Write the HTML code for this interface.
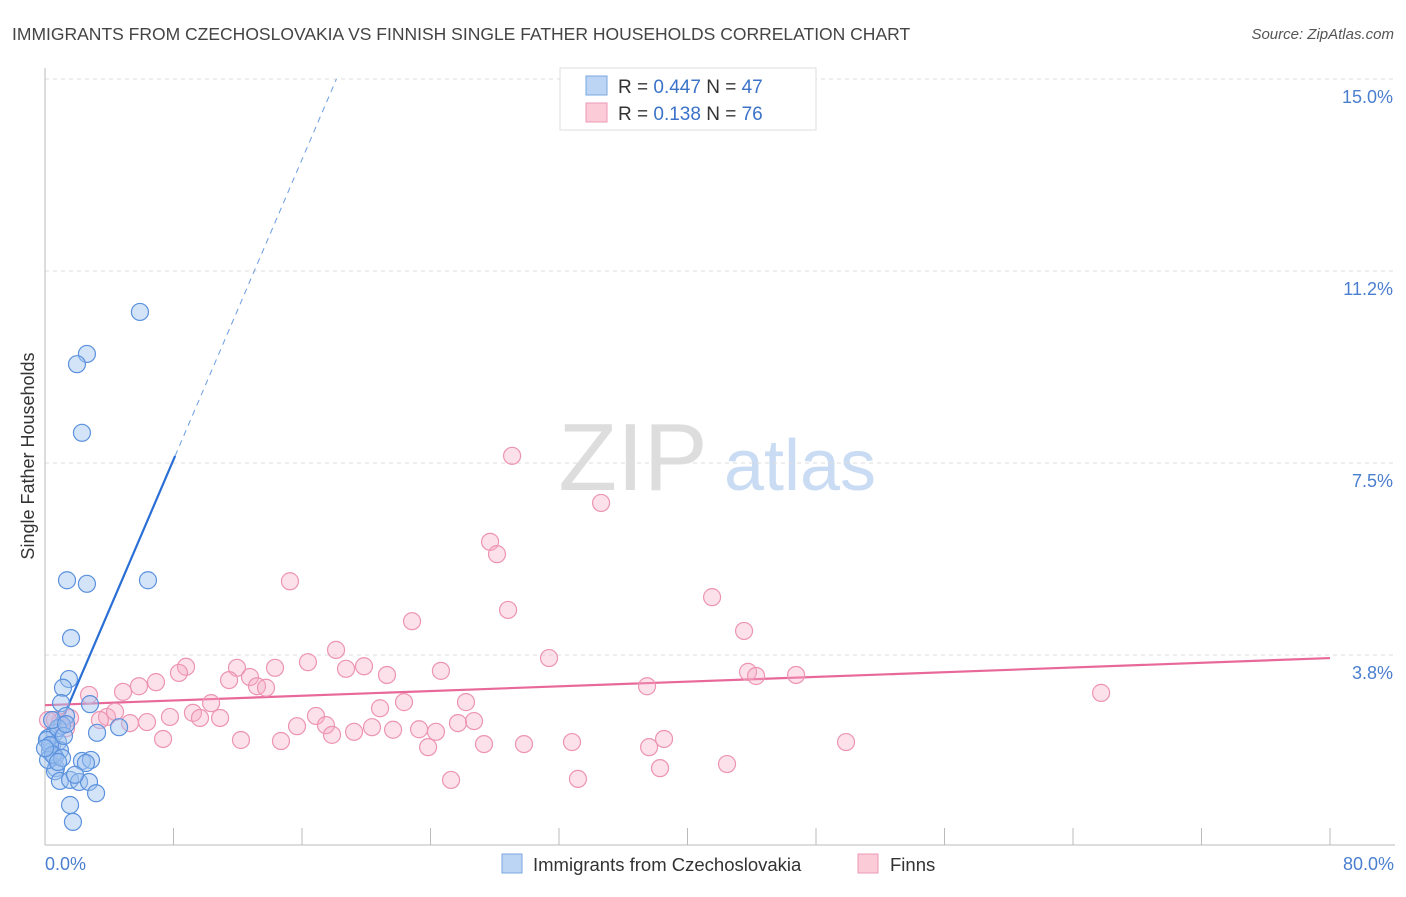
<!DOCTYPE html>
<html><head><meta charset="utf-8"><style>
body{margin:0;background:#fff;font-family:"Liberation Sans",sans-serif}
svg text{font-family:"Liberation Sans",sans-serif}
</style></head><body>
<svg id="chart" width="1406" height="892">
<text x="12" y="40" font-size="17.5" fill="#444">IMMIGRANTS FROM CZECHOSLOVAKIA VS FINNISH SINGLE FATHER HOUSEHOLDS CORRELATION CHART</text>
<text x="1394" y="39" font-size="15" fill="#555" font-style="italic" text-anchor="end">Source: ZipAtlas.com</text>
<g><text x="633" y="490" font-size="96" fill="#ddd" font-family="Liberation Serif" text-anchor="middle">ZIP</text><text x="800" y="490" font-size="72" fill="#c9dcf3" text-anchor="middle">atlas</text></g>
<g id="grid"></g><g id="axes"></g><g id="trend"></g><g id="pts"></g>
<text transform="translate(34,456) rotate(-90)" font-size="18" fill="#333" text-anchor="middle">Single Father Households</text>
<text x="45" y="870" font-size="18" fill="#4a7fd0">0.0%</text>
<text x="1394" y="870" font-size="18" fill="#4a7fd0" text-anchor="end">80.0%</text>
<g>
<rect x="560" y="68" width="256" height="62" fill="#fff" stroke="#ddd"/>
<rect x="586" y="76" width="21" height="19" fill="#bcd5f5" stroke="#7aa7e0"/>
<text x="618" y="93" font-size="19" fill="#333">R = <tspan fill="#3b73c8">0.447</tspan>   N = <tspan fill="#3b73c8">47</tspan></text>
<rect x="586" y="103" width="21" height="19" fill="#fbcbd8" stroke="#ee9ab5"/>
<text x="618" y="120" font-size="19" fill="#333">R =  <tspan fill="#3b73c8">0.138</tspan>   N = <tspan fill="#3b73c8">76</tspan></text>
</g>
<g>
<rect x="502" y="854" width="20" height="19" fill="#bcd5f5" stroke="#7aa7e0"/>
<text x="533" y="871" font-size="18.5" fill="#333">Immigrants from Czechoslovakia</text>
<rect x="858" y="854" width="20" height="19" fill="#fbcbd8" stroke="#ee9ab5"/>
<text x="890" y="871" font-size="18.5" fill="#333">Finns</text>
</g>
</svg>
<script>
const yTicks=[3.75,7.5,11.25,15];
const yTickLabels=["3.8%","7.5%","11.2%","15.0%"];
const xTicks=[0,8,16,24,32,40,48,56,64,72,80];
const blueX=[5.91,2.61,1.99,2.30,1.37,2.61,6.41,1.62,1.49,1.12,1.00,2.80,1.31,1.06,4.61,3.24,0.62,0.19,0.44,0.81,0.93,0.31,0.62,0.12,2.30,2.86,2.55,0.68,0.62,0.93,1.56,2.12,2.74,3.18,1.56,1.74,0.31,0.81,0.44,1.18,0.19,0.50,1.31,0.00,1.06,1.87,0.81];
const blueY=[10.45,9.63,9.43,8.09,5.21,5.14,5.21,4.08,3.28,3.11,2.81,2.79,2.56,2.38,2.34,2.23,2.23,2.13,1.99,2.05,1.89,1.86,1.76,2.09,1.68,1.70,1.64,1.54,1.48,1.29,1.31,1.27,1.27,1.05,0.82,0.49,1.99,2.32,2.48,2.17,1.70,1.80,2.40,1.93,1.74,1.41,1.66];
const pinkX=[29.08,34.62,27.71,28.14,15.25,41.53,28.83,22.85,43.52,18.12,31.38,8.78,11.95,14.32,16.37,18.74,19.86,24.65,43.77,44.27,46.76,21.29,8.34,11.46,12.76,6.91,13.20,13.76,5.85,4.86,2.74,37.48,65.75,10.34,22.35,26.21,20.86,7.78,9.21,9.65,10.90,16.87,3.86,4.36,3.42,5.29,6.35,15.69,17.49,20.36,23.29,24.34,21.67,25.71,26.71,19.24,17.87,7.35,12.20,14.69,27.33,29.82,32.81,38.54,37.61,49.87,23.85,38.29,42.46,25.28,33.18,1.56,0.93,0.62,0.19,1.31];
const pinkY=[7.64,6.72,5.96,5.72,5.19,4.88,4.63,4.41,4.22,3.85,3.69,3.52,3.50,3.50,3.61,3.48,3.53,3.44,3.42,3.34,3.36,3.36,3.40,3.26,3.32,3.22,3.14,3.11,3.14,3.03,2.97,3.14,3.01,2.81,2.83,2.83,2.71,2.54,2.62,2.52,2.52,2.56,2.54,2.64,2.48,2.42,2.44,2.36,2.38,2.34,2.30,2.25,2.29,2.42,2.46,2.25,2.19,2.11,2.09,2.07,2.01,2.01,2.05,2.11,1.95,2.05,1.95,1.54,1.62,1.31,1.33,2.52,2.44,2.48,2.48,2.32];
const blueTrend=[1.70,0.733]; // intercept, slope
const blueSolidEnd=8.1;
const pinkTrend=[2.77,0.0115];
const NS="http://www.w3.org/2000/svg";
const sx=v=>45+v*1285/80, sy=v=>847-v*51.2;
function mk(t,a,p){const e=document.createElementNS(NS,t);for(const k in a)e.setAttribute(k,a[k]);document.getElementById(p).appendChild(e);return e;}
yTicks.forEach((v,i)=>{
 const l=mk('line',{x1:45,x2:1395,y1:sy(v),y2:sy(v),stroke:'#ddd','stroke-dasharray':'4,4'},'grid');
 
 
 const t=mk('text',{x:1393,y:sy(v)+24,'font-size':18,fill:'#4a7fd0','text-anchor':'end'},'grid');t.textContent=yTickLabels[i];
 
 
});
const ax=mk('line',{x1:45,x2:45,y1:68,y2:845,stroke:'#bbb'},'axes');


const bx=mk('line',{x1:45,x2:1395,y1:845,y2:845,stroke:'#bbb'},'axes');


xTicks.forEach(v=>{const t=mk('line',{x1:sx(v),x2:sx(v),y1:828,y2:845,stroke:'#bbb'},'axes');
 
 });
function pts(X,Y,fill,stroke,name){X.forEach((x,i)=>{const c=mk('circle',{cx:sx(x),cy:sy(Y[i]),r:8.5,fill:fill,stroke:stroke,'stroke-width':1.2},'pts');
 
 });}
pts(pinkX,pinkY,'rgba(246,170,196,0.35)','#ec94b2','finns-point');
pts(blueX,blueY,'rgba(160,195,240,0.45)','#5b91dd','czech-point');
const bEnd=(15-blueTrend[0])/blueTrend[1];
const b1=mk('line',{x1:sx(0.12),y1:sy(blueTrend[0]+blueTrend[1]*0.12),x2:sx(blueSolidEnd),y2:sy(blueTrend[0]+blueTrend[1]*blueSolidEnd),stroke:'#2a6fd6','stroke-width':2.2},'trend');


const b2=mk('line',{x1:sx(blueSolidEnd),y1:sy(blueTrend[0]+blueTrend[1]*blueSolidEnd),x2:sx(bEnd),y2:sy(15),stroke:'#6a9de0','stroke-width':1,'stroke-dasharray':'6,5'},'trend');


const p1=mk('line',{x1:sx(0),y1:sy(pinkTrend[0]),x2:sx(80),y2:sy(pinkTrend[0]+pinkTrend[1]*80),stroke:'#e8689a','stroke-width':2.2},'trend');


</script>
</body></html>
